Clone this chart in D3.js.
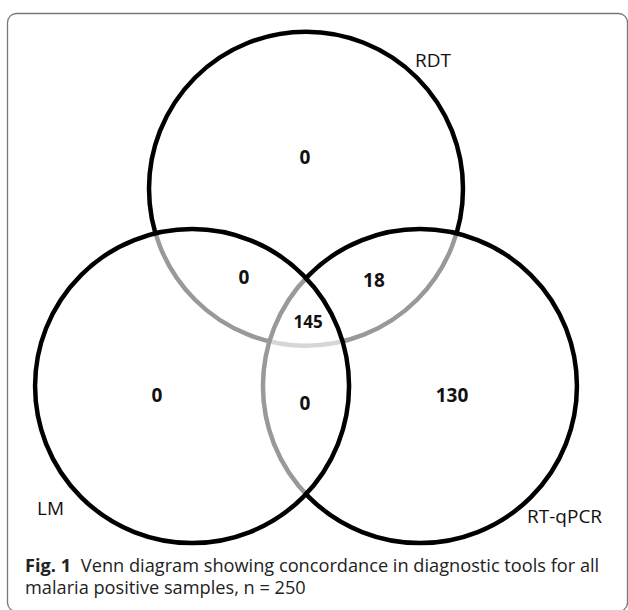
<!DOCTYPE html>
<html>
<head>
  <meta http-equiv="Content-Type" content="text/html; charset=UTF-8">
  <style>
    body { margin: 0; background: #fff; }
    .frame { fill: none; stroke: #777; stroke-width: 1.3px; }
    .set { fill: #fff; fill-opacity: 0.6; stroke: #000; stroke-width: 4.5px; }
    .setLabel { font-family: "Open Sans", sans-serif; font-size: 19px; fill: #111; }
    .count { font-family: "Open Sans", sans-serif; font-size: 19px; font-weight: bold; fill: #111; text-anchor: middle; }
    .caption { font-family: "Open Sans", sans-serif; font-size: 18.2px; fill: #222; }
  </style>
</head>
<body>
  <svg width="628" height="610"></svg>
  <script src="https://cdn.jsdelivr.net/npm/d3@7"></script>
  <script>
    // data
    var setNames = ["RDT", "LM", "RT-qPCR"];
    var regionSets = [["RDT"], ["RDT", "LM"], ["RDT", "RT-qPCR"], ["RDT", "LM", "RT-qPCR"],
                      ["LM"], ["RT-qPCR"], ["LM", "RT-qPCR"]];
    var regionCounts = [0, 0, 18, 145, 0, 130, 0];
    var captionBold = "Fig. 1";
    var captionLines = ["Venn diagram showing concordance in diagnostic tools for all",
                        "malaria positive samples, n = 250"];

    var svg = d3.select("svg");

    // layout, in radius units around the centroid of the three circles
    var spread = 0.838;
    var setAngle = {"RDT": -90, "LM": 150, "RT-qPCR": 30};
    var drawOrder = ["RDT", "RT-qPCR", "LM"]; // later circles wash out the strokes below
    var setLabelPos = {"RDT": [0.694, -1.613], "LM": [-1.713, 1.24], "RT-qPCR": [1.408, 1.291]};
    var regionPos = {
      "RDT": [-0.006, -1.04],
      "RDT|LM": [-0.395, -0.276],
      "RDT|RT-qPCR": [0.433, -0.257],
      "RDT|LM|RT-qPCR": [0.013, 0.008],
      "LM": [-0.949, 0.476],
      "RT-qPCR": [0.93, 0.476],
      "LM|RT-qPCR": [-0.006, 0.527]
    };

    var r = 157, cx = 306, cy = 320.3;
    var x = d3.scaleLinear().domain([-1, 1]).range([cx - r, cx + r]),
        y = d3.scaleLinear().domain([-1, 1]).range([cy - r, cy + r]);

    svg.append("rect")
        .attr("class", "frame")
        .attr("x", 7.5)
        .attr("y", 13.5)
        .attr("width", 620)
        .attr("height", 598)
        .attr("rx", 9);

    function center(name) {
      var a = setAngle[name] * Math.PI / 180;
      return [spread * Math.cos(a), spread * Math.sin(a)];
    }

    svg.selectAll(".set")
      .data(drawOrder)
      .enter().append("circle")
        .attr("class", "set")
        .attr("cx", function(d) { return x(center(d)[0]); })
        .attr("cy", function(d) { return y(center(d)[1]); })
        .attr("r", x(1) - x(0));

    svg.selectAll(".setLabel")
      .data(setNames)
      .enter().append("text")
        .attr("class", "setLabel")
        .attr("x", function(d) { return x(setLabelPos[d][0]); })
        .attr("y", function(d) { return y(setLabelPos[d][1]); })
        .text(function(d) { return d; });

    svg.selectAll(".count")
      .data(regionCounts)
      .enter().append("text")
        .attr("class", "count")
        .attr("x", function(d, i) { return x(regionPos[regionSets[i].join("|")][0]); })
        .attr("y", function(d, i) { return y(regionPos[regionSets[i].join("|")][1]); })
        .attr("dy", "0.36em")
        .style("font-size", function(d, i) { return regionSets[i].length === 3 ? "17px" : null; })
        .text(function(d) { return d; });

    var cap = svg.append("text")
        .attr("class", "caption")
        .attr("x", 25)
        .attr("y", 572);
    cap.append("tspan").style("font-weight", "bold").text(captionBold);
    cap.append("tspan").attr("dx", 5).text(" " + captionLines[0]);
    svg.append("text")
        .attr("class", "caption")
        .attr("x", 25)
        .attr("y", 594)
        .text(captionLines[1]);
  </script>
</body>
</html>
